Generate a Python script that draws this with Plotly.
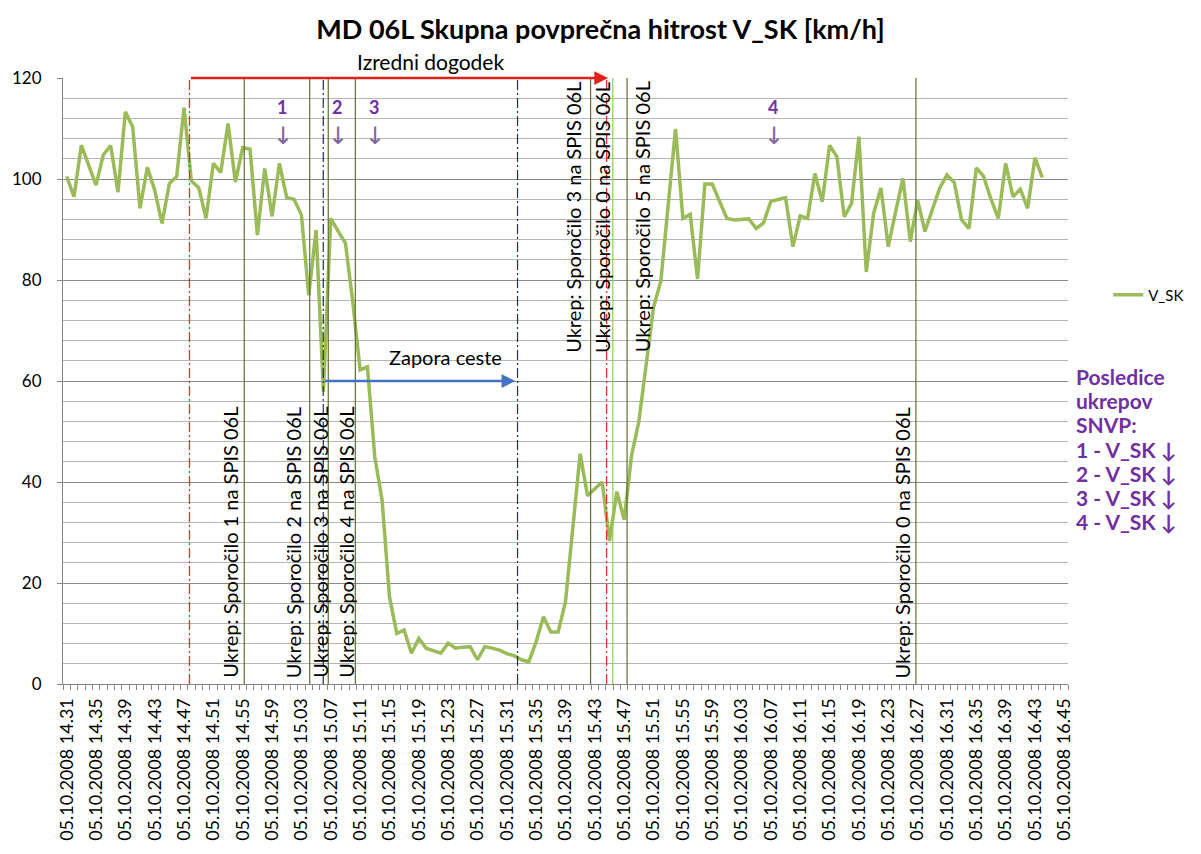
import plotly.graph_objects as go

# ---------------- data ----------------
minute_index = list(range(134))  # minutes after 14:31 (category positions)
v_sk = [
    100.5, 96.5, 106.7, 102.5, 98.8, 104.8, 106.6, 97.4, 113.3, 110.3,
    94.2, 102.3, 97.8, 91.2, 99.1, 100.5, 114.1, 99.6, 98.3, 92.2,
    103.1, 101.3, 111.0, 99.4, 106.2, 105.9, 88.9, 102.1, 92.6, 103.1,
    96.3, 96.0, 92.9, 77.0, 89.9, 57.9, 92.2, 89.7, 87.3, 75.7,
    62.2, 62.8, 45.0, 36.4, 17.3, 10.0, 10.7, 6.1, 9.0, 7.1,
    6.6, 6.1, 8.1, 7.1, 7.3, 7.4, 4.8, 7.4, 7.1, 6.7,
    6.0, 5.6, 4.8, 4.4, 8.4, 13.3, 10.3, 10.3, 16.3, 31.0,
    45.6, 37.3, 38.7, 40.0, 28.3, 38.1, 32.5, 45.2, 52.0, 63.0,
    74.6, 79.8, 95.0, 109.9, 92.2, 93.0, 80.2, 99.0, 99.0, 95.5,
    92.2, 91.9, 92.0, 92.1, 90.2, 91.3, 95.6, 96.0, 96.3, 86.6,
    92.7, 92.2, 101.1, 95.5, 106.7, 104.4, 92.5, 95.2, 108.4, 81.6,
    93.2, 98.2, 86.6, 93.5, 100.1, 87.6, 95.8, 89.6, 93.9, 98.2,
    100.8, 99.3, 91.9, 90.2, 102.2, 100.5, 96.0, 92.2, 103.1, 96.5,
    98.0, 94.2, 104.2, 100.3,
]
tick_index = [0, 4, 8, 12, 16, 20, 24, 28, 32, 36, 40, 44, 48, 52, 56, 60, 64,
              68, 72, 76, 80, 84, 88, 92, 96, 100, 104, 108, 112, 116, 120, 124,
              128, 132, 136]
tick_times = ["14.31", "14.35", "14.39", "14.43", "14.47", "14.51", "14.55", "14.59",
              "15.03", "15.07", "15.11", "15.15", "15.19", "15.23", "15.27", "15.31",
              "15.35", "15.39", "15.43", "15.47", "15.51", "15.55", "15.59", "16.03",
              "16.07", "16.11", "16.15", "16.19", "16.23", "16.27", "16.31", "16.35",
              "16.39", "16.43", "16.45"]
date_prefix = "05.10.2008"

# events (position on the category axis)
incident_start = 16.74
incident_end = 73.8
closure_start = 34.98
closure_end = 61.46
measure_names = ["Ukrep: Sporočilo 1 na SPIS 06L", "Ukrep: Sporočilo 2 na SPIS 06L",
                 "Ukrep: Sporočilo 3 na SPIS 06L", "Ukrep: Sporočilo 4 na SPIS 06L",
                 "Ukrep: Sporočilo 3 na SPIS 06L", "Ukrep: Sporočilo 0 na SPIS 06L",
                 "Ukrep: Sporočilo 5 na SPIS 06L", "Ukrep: Sporočilo 0 na SPIS 06L"]
measure_x = [24.21, 33.13, 35.66, 39.35, 71.42, 74.45, 76.39, 115.77]
effect_labels = ["1", "2", "3", "4"]
effect_x = [29.4, 36.8, 41.9, 96.3]
note_lines = ["Posledice", "ukrepov", "SNVP:"] + ["%s - V_SK ↓" % lab for lab in effect_labels]

# ---------------- styling ----------------
FONT = "Lato"
PURPLE = "#7030A0"
text_shift = [-14, -16, -8, -9, -17, -11, 15, -13]
text_upper = [False, False, False, False, True, True, True, False]
line_cols = ["#5f6f2f", "#5f6f2f", "#5f6f2f", "#5f6f2f", "#5f6f2f", "#8fcc50", "#5f6f2f", "#5f6f2f"]
note_px = [376, 400, 424, 449, 473, 497, 521]  # pixel centre of each note line

fig = go.Figure()
fig.add_trace(go.Scatter(
    x=minute_index, y=v_sk, mode="lines", name="V_SK",
    line=dict(color="#9BBB59", width=3.5),
))

shapes = []
for mx, col in zip(measure_x, line_cols):
    shapes.append(dict(type="line", xref="x", yref="y", x0=mx, x1=mx, y0=0, y1=120,
                       line=dict(color=col, width=1.2)))
shapes.append(dict(type="line", xref="x", yref="y", x0=incident_start, x1=incident_start,
                   y0=0, y1=120, line=dict(color="#E0302A", width=1.3, dash="10px,3px,2px,3px")))
shapes.append(dict(type="line", xref="x", yref="y", x0=incident_end - 0.2, x1=incident_end - 0.2,
                   y0=0, y1=120, line=dict(color="#E0302A", width=1.3, dash="10px,3px,2px,3px")))
for cx in (closure_start, closure_end):
    shapes.append(dict(type="line", xref="x", yref="y", x0=cx, x1=cx, y0=0, y1=120,
                       line=dict(color="#1F2F4F", width=1.2, dash="10px,3px,2px,3px")))

ann = []
# vertical measure texts
for name, mx, sh, up in zip(measure_names, measure_x, text_shift, text_upper):
    ann.append(dict(x=mx, y=65.2 if up else 0.8, xref="x", yref="y", text=name,
                    textangle=-90, showarrow=False, xanchor="center", yanchor="bottom",
                    xshift=sh, font=dict(family=FONT, size=20, color="black")))
# incident arrow
ann.append(dict(x=incident_end, y=120, ax=incident_start, ay=120, xref="x", yref="y",
                axref="x", ayref="y", text="", showarrow=True, arrowhead=2,
                arrowsize=1.1, arrowwidth=2.5, arrowcolor="#E0201B"))
ann.append(dict(x=49.6, y=1.027, xref="x", yref="paper", text="Izredni dogodek",
                yanchor="middle", showarrow=False,
                font=dict(family=FONT, size=21, color="black")))
# closure arrow
ann.append(dict(x=closure_end - 0.3, y=60, ax=closure_start, ay=60, xref="x", yref="y",
                axref="x", ayref="y", text="", showarrow=True, arrowhead=2,
                arrowsize=1.1, arrowwidth=2.5, arrowcolor="#4472C4"))
ann.append(dict(x=51.6, y=64.8, xref="x", yref="y", text="Zapora ceste",
                showarrow=False, font=dict(family=FONT, size=20, color="black")))
# effect markers
for lab, ex in zip(effect_labels, effect_x):
    ann.append(dict(x=ex, y=114.2, xref="x", yref="y", text="<b>%s</b>" % lab,
                    showarrow=False, font=dict(family=FONT, size=18, color=PURPLE)))
    ann.append(dict(x=ex, y=108.6, xref="x", yref="y", text="↓", xshift=1,
                    showarrow=False, font=dict(family="DejaVu Sans", size=24, color="#8064A2")))
# right side note, one line each
for line, py in zip(note_lines, note_px):
    ann.append(dict(x=1.006, y=(684 - py) / 606, xref="paper", yref="paper",
                    text="<b>%s</b>" % line, xanchor="left", yanchor="middle",
                    showarrow=False, font=dict(family=FONT, size=21, color=PURPLE)))

fig.update_layout(
    width=1201, height=854, autosize=False,
    margin=dict(l=63, r=129, t=78, b=170),
    paper_bgcolor="white", plot_bgcolor="white",
    font=dict(family=FONT, color="black"),
    title=dict(text="<b>MD 06L Skupna povprečna hitrost V_SK [km/h]</b>",
               x=0.5, xanchor="center", y=0.965, yanchor="middle", yref="container",
               font=dict(family=FONT, size=27, color="black")),
    showlegend=True,
    legend=dict(x=1.04, y=0.642, xanchor="left", yanchor="middle",
                font=dict(family=FONT, size=15, color="black"), bgcolor="rgba(0,0,0,0)"),
    xaxis=dict(range=[-0.5, 136.5], tickmode="array", tickvals=tick_index,
               ticktext=[date_prefix + " " + t for t in tick_times],
               tickangle=-90, tickfont=dict(family=FONT, size=18, color="black"),
               ticks="", showgrid=False, zeroline=False, showline=True,
               linecolor="#868686", linewidth=1, ticklabelstandoff=6,
               minor=dict(tick0=-0.5, dtick=1, ticks="outside", ticklen=5,
                          tickcolor="#868686", showgrid=False)),
    yaxis=dict(range=[0, 120], dtick=20, tick0=0, showgrid=True, gridcolor="#8a8a8a",
               gridwidth=1, zeroline=False, showline=True, linecolor="#868686",
               ticks="outside", ticklen=5, tickcolor="#868686",
               tickfont=dict(family=FONT, size=17, color="black"), ticklabelstandoff=12,
               minor=dict(dtick=4, showgrid=True, gridcolor="#b5b5b5", gridwidth=1,
                          ticks="")),
    shapes=shapes, annotations=ann,
)

fig.write_html("out.html", config={"displayModeBar": False},
               post_script="document.body.style.margin='0px';")
